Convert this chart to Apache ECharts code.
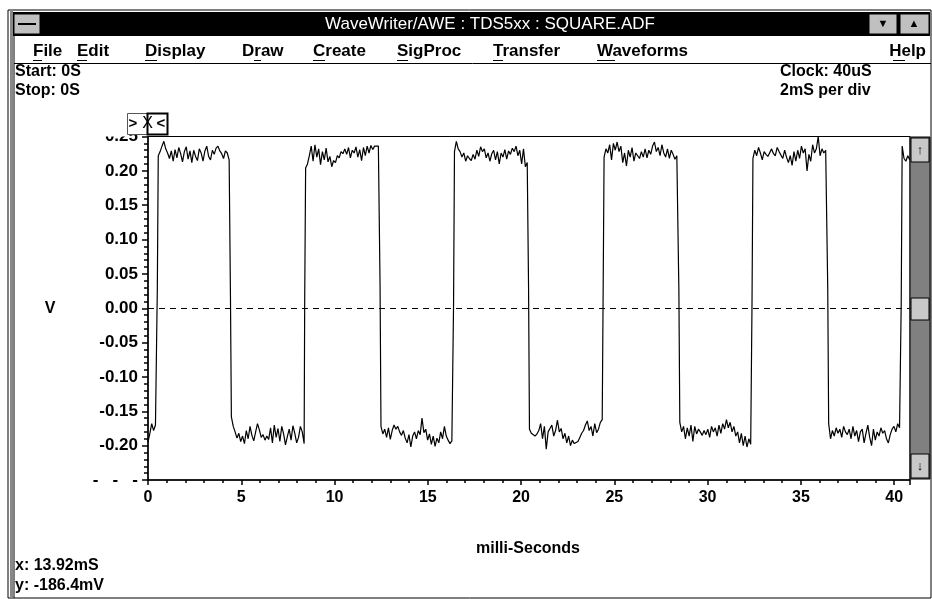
<!DOCTYPE html>
<html><head><meta charset="utf-8">
<script src="https://cdn.jsdelivr.net/npm/echarts@6/dist/echarts.min.js"></script>
<style>html,body{margin:0;padding:0;background:#fff}#c{width:932px;height:599px}</style>
</head><body><div id="c"></div>
<script>
// ---- data ----
const sampleStep = 0.1; // ms between plotted samples (decimated from 40uS clock)
const xMin = 0, xMax = 40.85;
const yMin = -0.25, yMax = 0.25;
const xTickValues = [0, 5, 10, 15, 20, 25, 30, 35, 40];
const yTickValues = [-0.25, -0.20, -0.15, -0.10, -0.05, 0.00, 0.05, 0.10, 0.15, 0.20, 0.25];
// transition times (ms) and the intermediate sample value at each edge
const edgeTimes = [0.50, 4.42, 8.40, 12.44, 16.38, 20.40, 24.40, 28.46, 32.38, 36.44, 40.38];
const edgeMid   = [0.029, 0.019, 0.010, 0.035, 0.004, 0.035, 0.025, 0.026, 0.006, 0.030, 0.010];
// plateau samples (V)
const low0  = [-0.195,-0.182,-0.168,-0.178,-0.170];
const high1 = [0.222,0.228,0.236,0.243,0.232,0.226,0.218,0.229,0.214,0.231,0.219,0.234,0.225,0.213,0.228,0.235,0.217,0.229,0.212,0.230,0.221,0.215,0.232,0.226,0.214,0.229,0.236,0.221,0.216,0.230,0.224,0.233,0.236,0.229,0.225,0.218,0.229,0.226,0.216];
const low1  = [-0.158,-0.172,-0.180,-0.189,-0.182,-0.194,-0.186,-0.197,-0.178,-0.190,-0.172,-0.185,-0.193,-0.180,-0.168,-0.177,-0.188,-0.184,-0.192,-0.186,-0.191,-0.174,-0.196,-0.170,-0.188,-0.175,-0.194,-0.172,-0.183,-0.199,-0.187,-0.176,-0.192,-0.171,-0.182,-0.196,-0.188,-0.172,-0.180,-0.197];
const high2 = [0.204,0.210,0.222,0.236,0.214,0.238,0.220,0.232,0.209,0.228,0.216,0.233,0.213,0.221,0.206,0.215,0.212,0.222,0.219,0.228,0.225,0.232,0.224,0.234,0.219,0.230,0.226,0.235,0.220,0.231,0.215,0.234,0.222,0.236,0.226,0.237,0.231,0.236,0.235,0.236];
const low2  = [-0.172,-0.183,-0.176,-0.188,-0.174,-0.191,-0.178,-0.170,-0.176,-0.172,-0.180,-0.185,-0.178,-0.189,-0.196,-0.184,-0.202,-0.186,-0.180,-0.190,-0.178,-0.184,-0.160,-0.181,-0.176,-0.192,-0.183,-0.198,-0.186,-0.201,-0.189,-0.196,-0.180,-0.190,-0.172,-0.186,-0.192,-0.197,-0.193];
const high3 = [0.228,0.243,0.232,0.228,0.220,0.226,0.214,0.222,0.218,0.215,0.224,0.217,0.230,0.221,0.235,0.228,0.232,0.219,0.226,0.214,0.225,0.230,0.216,0.228,0.210,0.226,0.220,0.231,0.217,0.229,0.224,0.233,0.228,0.236,0.222,0.230,0.210,0.232,0.206,0.212];
const low3  = [-0.176,-0.182,-0.180,-0.186,-0.183,-0.178,-0.168,-0.190,-0.172,-0.205,-0.180,-0.175,-0.170,-0.186,-0.178,-0.163,-0.180,-0.175,-0.190,-0.182,-0.196,-0.186,-0.200,-0.192,-0.197,-0.196,-0.194,-0.188,-0.182,-0.178,-0.170,-0.164,-0.178,-0.172,-0.186,-0.168,-0.181,-0.176,-0.166,-0.162];
const high4 = [0.220,0.232,0.226,0.238,0.216,0.240,0.230,0.242,0.228,0.236,0.212,0.226,0.207,0.230,0.220,0.234,0.214,0.226,0.222,0.218,0.228,0.220,0.232,0.219,0.230,0.224,0.236,0.242,0.228,0.234,0.222,0.238,0.226,0.220,0.232,0.218,0.230,0.224,0.217,0.222];
const low4  = [-0.166,-0.180,-0.172,-0.190,-0.174,-0.186,-0.170,-0.194,-0.172,-0.183,-0.176,-0.180,-0.185,-0.178,-0.184,-0.176,-0.188,-0.172,-0.180,-0.174,-0.186,-0.170,-0.182,-0.168,-0.176,-0.162,-0.174,-0.166,-0.180,-0.172,-0.186,-0.180,-0.196,-0.182,-0.200,-0.186,-0.202,-0.190,-0.198];
const high5 = [0.218,0.230,0.222,0.234,0.226,0.216,0.228,0.224,0.221,0.223,0.232,0.225,0.222,0.234,0.228,0.226,0.218,0.230,0.220,0.212,0.222,0.208,0.228,0.214,0.230,0.218,0.236,0.226,0.232,0.200,0.224,0.214,0.238,0.226,0.232,0.250,0.222,0.232,0.226,0.230];
const low5  = [-0.168,-0.190,-0.178,-0.186,-0.174,-0.182,-0.176,-0.188,-0.172,-0.180,-0.184,-0.176,-0.190,-0.172,-0.186,-0.178,-0.194,-0.180,-0.176,-0.196,-0.182,-0.170,-0.188,-0.200,-0.176,-0.192,-0.180,-0.186,-0.174,-0.182,-0.178,-0.190,-0.196,-0.184,-0.176,-0.172,-0.180,-0.168,-0.174];
const high6 = [0.236,0.218,0.214,0.222,0.216];
const plateaus = [low0, high1, low1, high2, low2, high3, low3, high4, low4, high5, low5, high6];

// ---- build series points (sample-and-hold up to each edge) ----
const points = [];
plateaus.forEach((vals, k) => {
  let start = 0;
  if (k > 0) {
    points.push([edgeTimes[k - 1], edgeMid[k - 1]]);
    start = edgeTimes[k - 1] + 0.05;
  }
  const end = k < edgeTimes.length ? edgeTimes[k] - 0.02 : xMax;
  let last = null;
  vals.forEach((v, i) => {
    const t = +(start + i * sampleStep).toFixed(3);
    if (t <= end) { points.push([t, v]); last = v; }
  });
  if (k < edgeTimes.length && last !== null) points.push([edgeTimes[k] - 0.01, last]);
});

const FONT = "'Liberation Sans', Arial, sans-serif";
const chart = echarts.init(document.getElementById('c'), null, {renderer: 'canvas'});

function txt(x, y, s, opt) {
  return Object.assign({type: 'text', x: x, y: y, z: 100, style: Object.assign({text: s, fill: '#000', font: 'bold 16px ' + FONT, textVerticalAlign: 'middle'}, opt || {})});
}
function ln(x1, y1, x2, y2, w, c) {
  return {type: 'line', z: 100, shape: {x1: x1, y1: y1, x2: x2, y2: y2}, style: {stroke: c || '#000', lineWidth: w || 1}};
}
function rc(x, y, w, h, fill, stroke, lw) {
  return {type: 'rect', z: 99, shape: {x: x, y: y, width: w, height: h}, style: {fill: fill, stroke: stroke || null, lineWidth: lw || 1}};
}

const menu = [['File', 33, 33, 42, 'left'], ['Edit', 77, 77, 87, 'left'], ['Display', 145, 145, 157, 'left'], ['Draw', 242, 254, 261, 'left'], ['Create', 313, 313, 325, 'left'], ['SigProc', 397, 397, 408, 'left'], ['Transfer', 493, 493, 503, 'left'], ['Waveforms', 597, 597, 615, 'left'], ['Help', 926, 893, 905, 'right']];

const graphics = [
  // window frame
  rc(8, 10, 923, 588, null, '#000', 1),
  ln(11.5, 10, 11.5, 598, 3, '#888'),
  ln(14, 36, 14, 598, 1, '#000'),
  // title bar
  rc(12, 12, 918, 24, '#000'),
  rc(14, 14, 26, 20, '#c0c0c0', '#000'),
  ln(18, 24, 36, 24, 2, '#000'),
  rc(869, 14, 28, 20, '#c0c0c0', '#000'),
  rc(900, 14, 29, 20, '#c0c0c0', '#000'),
  txt(883, 24, '▼', {font: '11px ' + FONT, textAlign: 'center'}),
  txt(914, 24, '▲', {font: '11px ' + FONT, textAlign: 'center'}),
  txt(490, 24, 'WaveWriter/AWE : TDS5xx : SQUARE.ADF', {fill: '#fff', font: '17px ' + FONT, textAlign: 'center'}),
  // menu bar
  ln(14, 63.5, 931, 63.5, 1, '#000'),
  // info text
  txt(15, 72, 'Start: 0S'),
  txt(15, 91, 'Stop: 0S'),
  txt(780, 72, 'Clock: 40uS'),
  txt(780, 91, '2mS per div'),
  // cursor widget
  rc(127.5, 113.5, 20, 21, '#fff', '#555', 1),
  rc(147.5, 113.5, 20, 21, '#fff', '#000', 2),
  txt(133, 124, '>', {font: 'bold 15px ' + FONT, textAlign: 'center'}),
  txt(147.5, 124, 'X', {font: '16px ' + FONT, textAlign: 'center'}),
  txt(161, 124, '<', {font: 'bold 15px ' + FONT, textAlign: 'center'}),
  // mask upper half of clipped top tick label
  {type: 'rect', z: 101, shape: {x: 90, y: 118, width: 37, height: 18.5}, style: {fill: '#fff'}},
  // y axis name and x name, cursor readout
  txt(50, 309, 'V', {textAlign: 'center'}),
  txt(528, 549, 'milli-Seconds', {textAlign: 'center'}),
  txt(15, 566, 'x: 13.92mS'),
  txt(15, 586, 'y: -186.4mV'),
  // scrollbar
  rc(910, 137, 20, 342, '#808080', '#000'),
  rc(911, 138, 18, 24, '#c8c8c8', '#000'),
  txt(920, 150, '↑', {font: 'bold 13px ' + FONT, textAlign: 'center'}),
  rc(911, 298, 18, 22, '#c8c8c8', '#000'),
  rc(911, 454, 18, 24, '#c8c8c8', '#000'),
  txt(920, 466, '↓', {font: 'bold 13px ' + FONT, textAlign: 'center'})
];
menu.forEach(m => {
  graphics.push(txt(m[1], 51, m[0], {font: 'bold 17px ' + FONT, textAlign: m[4]}));
  graphics.push(ln(m[2], 60.5, m[3], 60.5, 1, '#000'));
});

chart.setOption({
  animation: false,
  backgroundColor: '#fff',
  grid: {left: 148, right: 22, top: 136.5, bottom: 119, show: true, borderColor: '#000', borderWidth: 1, backgroundColor: 'transparent'},
  xAxis: {
    type: 'value', min: xMin, max: xMax, interval: 5,
    axisLine: {onZero: false, lineStyle: {color: '#000', width: 1.5}},
    axisTick: {show: true, length: 5, lineStyle: {color: '#000', width: 1.5}},
    minorTick: {show: true, splitNumber: 5, length: 3, lineStyle: {color: '#000', width: 1.5}},
    splitLine: {show: false},
    axisLabel: {color: '#000', fontWeight: 'bold', fontSize: 16, fontFamily: FONT, margin: 10,
      formatter: v => xTickValues.includes(v) ? String(v) : ''}
  },
  yAxis: {
    type: 'value', min: yMin, max: yMax, interval: 0.05,
    axisLine: {show: true, lineStyle: {color: '#000', width: 1.5}},
    axisTick: {show: true, length: 6, lineStyle: {color: '#000', width: 1.5}},
    minorTick: {show: true, splitNumber: 5, length: 4, lineStyle: {color: '#000', width: 1.5}},
    splitLine: {show: false},
    axisLabel: {color: '#000', fontWeight: 'bold', fontSize: 17, fontFamily: FONT, margin: 10,
      formatter: v => {
        const t = yTickValues.find(y => Math.abs(y - v) < 1e-9);
        if (t === undefined) return '';
        if (Math.abs(t - yMin) < 1e-9) return '-   -   -';
        return t.toFixed(2);
      }}
  },
  series: [{
    type: 'line', data: points, showSymbol: false, symbol: 'none',
    lineStyle: {color: '#000', width: 1.2}, clip: true,
    markLine: {silent: true, symbol: 'none', label: {show: false},
      lineStyle: {color: '#000', type: [6, 5], width: 1}, data: [{yAxis: 0}]}
  }],
  graphic: graphics
});
</script></body></html>
